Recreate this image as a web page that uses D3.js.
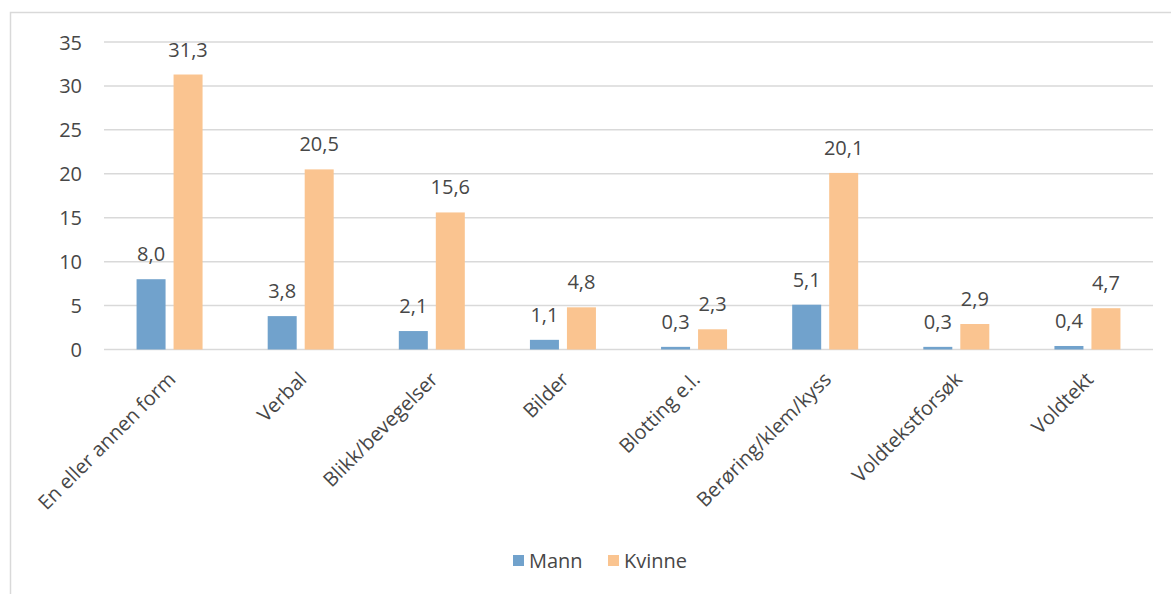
<!DOCTYPE html>
<html><head><meta charset="utf-8">
<script src="https://cdn.jsdelivr.net/npm/d3@7"></script>
<style>body{margin:0;background:#fff}svg{display:block}</style>
</head><body><svg id="c" width="1171" height="594"></svg>
<script>
const categories = ["En eller annen form","Verbal","Blikk/bevegelser","Bilder","Blotting e.l.","Berøring/klem/kyss","Voldtekstforsøk","Voldtekt"];
const seriesNames = ["Mann","Kvinne"];
const mann = [8.0,3.8,2.1,1.1,0.3,5.1,0.3,0.4];
const kvinne = [31.3,20.5,15.6,4.8,2.3,20.1,2.9,4.7];
const yTicks = [0,5,10,15,20,25,30,35];
const colors = ["#71A2CC","#FAC490"];

const svg = d3.select("#c");
const font = "'Open Sans', sans-serif";
const txt = "#474747";
svg.append("rect").attr("x",10.5).attr("y",12.5).attr("width",1175).attr("height",600)
  .attr("fill","#fff").attr("stroke","#d9d9d9").attr("stroke-width",1.5);

const L=104, R=1153, T=42, B=349.5;
const x = d3.scaleBand().domain(categories).range([L,R]);
const y = d3.scaleLinear().domain([0,35]).range([B,T]);
const bw = 29, gap = 8;

const g = svg.append("g");
g.selectAll("line.grid").data(yTicks).join("line")
  .attr("x1",L).attr("x2",R).attr("y1",d=>y(d)).attr("y2",d=>y(d))
  .attr("stroke","#d9d9d9").attr("stroke-width",1.5);

const yAxis = d3.axisLeft(y).tickValues(yTicks).tickSize(0).tickPadding(0);
const ya = svg.append("g").attr("transform",`translate(82,0)`).call(yAxis);
ya.select(".domain").remove();
ya.selectAll("text").attr("font-family",font).attr("font-size",20).attr("fill",txt).attr("dy","0.35em");

const data = [mann,kvinne];
data.forEach((vals,si)=>{
  const off = si===0 ? -gap/2-bw : gap/2;
  svg.append("g").selectAll("rect").data(vals).join("rect")
    .attr("x",(d,i)=>x(categories[i])+x.bandwidth()/2+off)
    .attr("width",bw)
    .attr("y",d=>y(d)).attr("height",d=>y(0)-y(d))
    .attr("fill",colors[si]);
  svg.append("g").selectAll("text").data(vals).join("text")
    .attr("x",(d,i)=>x(categories[i])+x.bandwidth()/2+off+bw/2)
    .attr("y",d=>y(d)-18)
    .attr("text-anchor","middle")
    .attr("font-family",font).attr("font-size",20).attr("fill",txt)
    .text(d=>d.toFixed(1).replace(".",","));
});

const xAxis = d3.axisBottom(x).tickSize(0).tickPadding(0);
const xa = svg.append("g").attr("transform",`translate(0,${B})`).call(xAxis);
xa.select(".domain").remove();
xa.selectAll("text").attr("font-family",font).attr("font-size",20).attr("fill",txt)
  .attr("text-anchor","end").attr("dy","0.72em").attr("y",0)
  .attr("transform","translate(-3,21) rotate(-45)");

const lg = svg.append("g");
const items = [{n:seriesNames[0],c:colors[0],x:513},{n:seriesNames[1],c:colors[1],x:608}];
items.forEach(it=>{
  lg.append("rect").attr("x",it.x).attr("y",555).attr("width",11).attr("height",11).attr("fill",it.c);
  lg.append("text").attr("x",it.x+16).attr("y",568).attr("font-family",font).attr("font-size",20).attr("fill",txt).text(it.n);
});
</script></body></html>
